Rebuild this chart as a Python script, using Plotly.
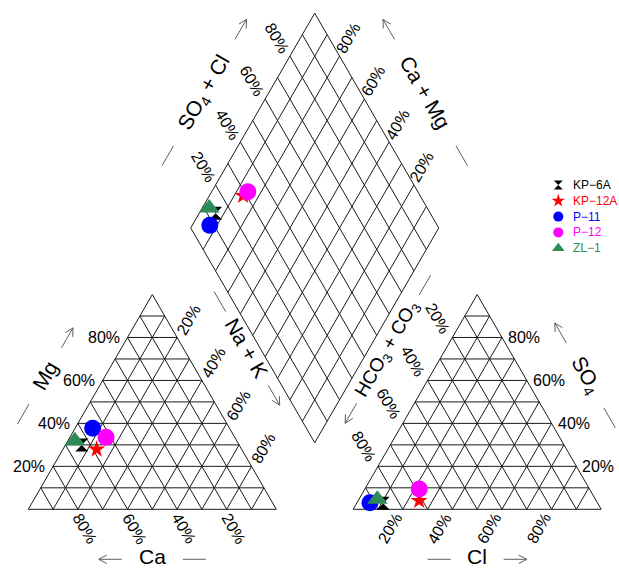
import numpy as np
import plotly.graph_objects as go

# ---------------- data (percent of meq) ----------------
samples = ["KP−6A", "KP−12A", "P−11", "P−12", "ZL−1"]
ca = [63.5, 58.5, 55.2, 51.9, 65.3]
mg = [29.9, 27.9, 37.7, 33.5, 31.9]
na_k = [6.6, 13.6, 7.1, 14.6, 2.8]
cl = [10.7, 24.6, 5.2, 21.9, 7.4]
so4 = [2.8, 4.0, 3.1, 9.5, 4.7]
hco3_co3 = [86.5, 71.4, 91.7, 68.6, 87.9]
tick_pct = [20, 40, 60, 80]

colors = ["black", "red", "blue", "#FF00FF", "#2E8B57"]
symbols = ["hourglass", "star", "circle", "circle", "triangle-up"]
sizes = [13, 13, 17, 17, 18]
legend_sizes = [9, 10, 10, 10, 11]

# ---------------- geometry ----------------
W, H = 619, 569
X0, Y0, SC = 28.3, 509.3, 248.0
S3 = np.sqrt(3) / 2
GAP = 0.31
OX = 1 + GAP
BX, BY = 1 + GAP / 2, GAP * S3
FONT = "Liberation Sans, Arial, sans-serif"
GRID = "#1a1a1a"
DECO = "#5e5e5e"


def to_data(px, py):
    return (px - X0) / SC, (Y0 - py) / SC


def cation_xy(c, m, n):
    t = c + m + n
    return n / t + m / t / 2, m / t * S3


def anion_xy(c, s, h):
    t = c + s + h
    return OX + c / t + s / t / 2, s / t * S3


def diamond_xy(c, m, n, cl_, s, h):
    cm = (c + m) / (c + m + n)
    sc = (s + cl_) / (cl_ + s + h)
    return BX - cm / 2 + sc / 2, BY + (cm + sc) * S3


fig = go.Figure()

# ---------------- grids ----------------
gx, gy = [], []
for ox in (0.0, OX):
    for i in range(10):
        f = i / 10
        segs = [((f / 2, f * S3), (1 - f / 2, f * S3)),
                ((1 - f, 0), ((1 - f) / 2, (1 - f) * S3)),
                ((f, 0), (f + (1 - f) / 2, (1 - f) * S3))]
        for a, b in segs:
            gx += [ox + a[0], ox + b[0], None]
            gy += [a[1], b[1], None]
for i in range(11):
    f = i / 10
    gx += [BX - f / 2, BX - f / 2 + 0.5, None]
    gy += [BY + f * S3, BY + (f + 1) * S3, None]
    gx += [BX + f / 2, BX + f / 2 - 0.5, None]
    gy += [BY + f * S3, BY + (f + 1) * S3, None]
fig.add_trace(go.Scatter(x=gx, y=gy, mode="lines", line=dict(color=GRID, width=1),
                         hoverinfo="skip", showlegend=False))

annotations = []


def label(x, y, text, dx=0, dy=0, angle=0, size=16, xanchor="center", color="black"):
    annotations.append(dict(x=x, y=y, xref="x", yref="y", text=text, showarrow=False,
                            xshift=dx, yshift=dy, textangle=angle,
                            font=dict(size=size, color=color, family=FONT),
                            xanchor=xanchor, yanchor="middle"))


# ---------------- tick labels ----------------
for v in tick_pct:
    f = v / 100
    t = f"{v}%"
    label(f / 2, f * S3, t, dx=-6, xanchor="right")                      # Mg
    label(0.5 + f / 2, (1 - f) * S3, t, dx=12, dy=17.5, angle=-60)        # Na+K
    label(1 - f, 0, t, dx=7, dy=-19, angle=60)                            # Ca
    label(OX + 1 - f / 2, f * S3, t, dx=4, xanchor="left")                # SO4
    label(OX + f, 0, t, dx=-13, dy=-19, angle=-60)                        # Cl
    label(OX + (1 - f) / 2, (1 - f) * S3, t, dx=-14.5, dy=19.4, angle=60) # HCO3
    label(BX - 0.5 + f / 2, BY + (1 + f) * S3, t, dx=-12.7, dy=18, angle=60)  # SO4+Cl
    label(BX + 0.5 - f / 2, BY + (1 + f) * S3, t, dx=8.3, dy=18, angle=-60)   # Ca+Mg

# ---------------- axis titles with arrows ----------------
dx_, dy_ = [], []


def seg(p, q):
    dx_.extend([p[0], q[0], None])
    dy_.extend([p[1], q[1], None])


def title_group(mid, normal, perp, along_dir, along, read_dir, angle, text, dist, arrow_sign,
                size=21, line_perp=None):
    n = np.array(normal, float); n /= np.linalg.norm(n)
    a = np.array(along_dir, float); a /= np.linalg.norm(a)
    r = np.array(read_dir, float); r /= np.linalg.norm(r)
    c = np.array(mid, float) + n * perp / SC + a * along / SC
    label(c[0], c[1], text, angle=angle, size=size)
    if line_perp is not None:
        c = np.array(mid, float) + n * line_perp / SC + a * along / SC
    half = 11.5 / SC
    pa = c + arrow_sign * r * dist / SC
    t = arrow_sign * r
    tip = pa + t * half
    seg(pa - t * half, tip)
    for ang in (np.radians(28), -np.radians(28)):
        rot = np.array([t[0] * np.cos(ang) - t[1] * np.sin(ang),
                        t[0] * np.sin(ang) + t[1] * np.cos(ang)])
        seg(tip, tip - rot * 9 / SC)
    pd_ = c - arrow_sign * r * dist / SC
    seg(pd_ - r * half, pd_ + r * half)


up_r = (0.5, S3)
dn_r = (0.5, -S3)
title_group((0.5, 0), (0, -1), 47, (1, 0), 0, (1, 0), 0, "Ca", 42, -1, line_perp=50)
title_group((OX + 0.5, 0), (0, -1), 47, (1, 0), 0, (1, 0), 0, "Cl", 38, 1, line_perp=50)
title_group((0.25, S3 / 2), (-S3, 0.5), 52, up_r, 0, up_r, -60, "Mg", 44, 1)
title_group((OX + 0.75, S3 / 2), (S3, 0.5), 53, (-0.5, S3), 0, dn_r, 60,
            "SO<sub>4</sub>", 49, -1)
title_group((0.75, S3 / 2), (S3, 0.5), 55, (-0.5, S3), 30, dn_r, 60, "Na + K", 54, 1)
title_group((OX + 0.25, S3 / 2), (-S3, 0.5), 50, (0.5, S3), 32, up_r, -60,
            "HCO<sub>3</sub> + CO<sub>3</sub>", 74, -1, size=19)
mid_ul = (BX - 0.25, BY + 1.5 * S3)
mid_ur = (BX + 0.25, BY + 1.5 * S3)
title_group(mid_ul, (-S3, 0.5), 56, up_r, 0, up_r, -60, "SO<sub>4</sub> + Cl", 73, 1)
title_group(mid_ur, (S3, 0.5), 56, (-0.5, S3), 0, dn_r, 60, "Ca + Mg", 73, -1)

fig.add_trace(go.Scatter(x=dx_, y=dy_, mode="lines", line=dict(color=DECO, width=1),
                         hoverinfo="skip", showlegend=False))

# ---------------- samples ----------------
for i, name in enumerate(samples):
    p1 = cation_xy(ca[i], mg[i], na_k[i])
    p2 = anion_xy(cl[i], so4[i], hco3_co3[i])
    p3 = diamond_xy(ca[i], mg[i], na_k[i], cl[i], so4[i], hco3_co3[i])
    fig.add_trace(go.Scatter(x=[p1[0], p2[0], p3[0]], y=[p1[1], p2[1], p3[1]],
                             mode="markers", name=name,
                             marker=dict(symbol=symbols[i], color=colors[i], size=sizes[i],
                                         line=dict(width=0)),
                             showlegend=False))

# ---------------- manual legend ----------------
for i, name in enumerate(samples):
    sx, sy = to_data(558.3, 185 + i * 15.8)
    tx, _ = to_data(571, 0)
    fig.add_trace(go.Scatter(x=[sx], y=[sy], mode="markers",
                             marker=dict(symbol=symbols[i], color=colors[i],
                                         size=legend_sizes[i], line=dict(width=0)),
                             hoverinfo="skip", showlegend=False))
    label(tx, sy, name, xanchor="left", size=12, color=colors[i])

xr = [to_data(0, 0)[0], to_data(W, 0)[0]]
yr = [to_data(0, H)[1], to_data(0, 0)[1]]
fig.update_layout(
    width=W, height=H, autosize=False,
    margin=dict(l=0, r=0, t=0, b=0),
    paper_bgcolor="white", plot_bgcolor="white",
    xaxis=dict(range=xr, visible=False, fixedrange=True),
    yaxis=dict(range=yr, visible=False, fixedrange=True),
    annotations=annotations,
    showlegend=False,
)
fig.write_html(
    "out.html",
    config={"displayModeBar": False},
    post_script="document.body.style.margin='0';document.body.style.overflow='hidden';",
)
